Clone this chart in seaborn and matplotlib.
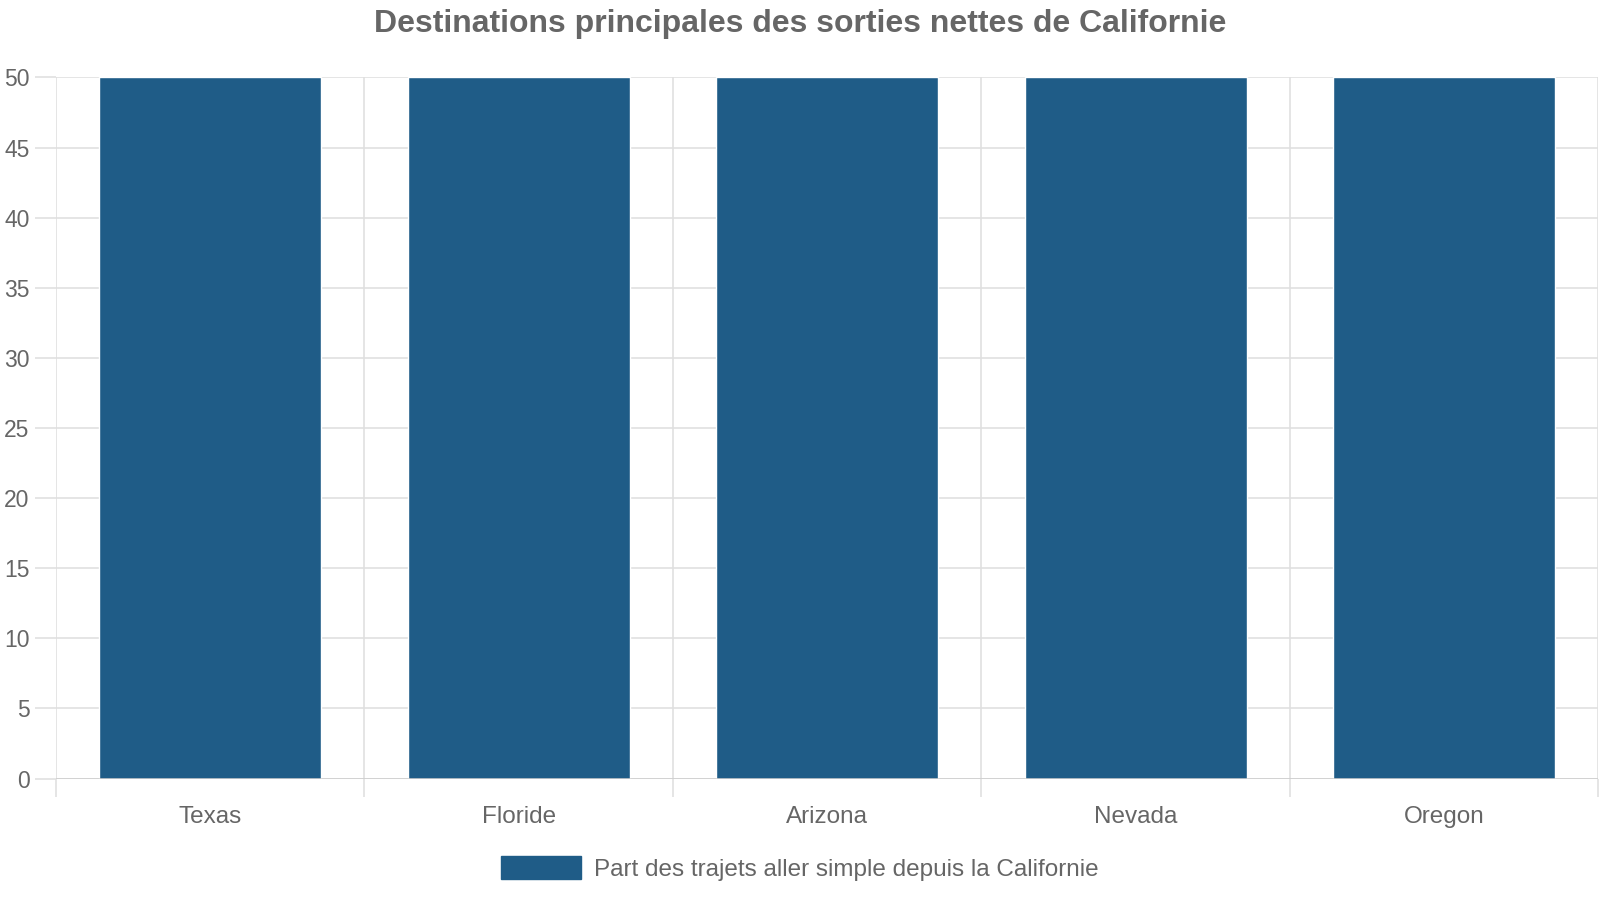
import matplotlib
matplotlib.use("Agg")
import matplotlib.pyplot as plt
import seaborn as sns
import pandas as pd
from matplotlib.patches import Patch

categories = ["Texas", "Floride", "Arizona", "Nevada", "Oregon"]
values = [50, 50, 50, 50, 50]
series_name = "Part des trajets aller simple depuis la Californie"
title = "Destinations principales des sorties nettes de Californie"
yticks = [0, 5, 10, 15, 20, 25, 30, 35, 40, 45, 50]

sns.set_theme(style="white")
plt.rcParams["font.family"] = ["Liberation Sans", "DejaVu Sans"]

TEXT = "#666666"
GRID = "#e0e0e0"
BAR = "#1f5c87"

df = pd.DataFrame({"cat": categories, "val": values})

fig = plt.figure(figsize=(16, 9), dpi=100)
ax = fig.add_axes([0.035, 0.135, 0.964, 0.779])

sns.barplot(data=df, x="cat", y="val", color=BAR, width=0.72, saturation=1,
            ax=ax, zorder=3)

ax.set_ylim(0, 50)
ax.set_xlim(-0.5, len(categories) - 0.5)
ax.set_yticks(yticks)
ax.set_yticklabels([str(t) for t in yticks])
ax.set_xlabel("")
ax.set_ylabel("")

# grid
for t in yticks:
    ax.axhline(t, color=GRID, lw=1.2, zorder=1)
for i in range(len(categories) + 1):
    ax.axvline(i - 0.5, color=GRID, lw=1.2, zorder=1)
ax.axhline(0, color="#cccccc", lw=1.8, zorder=4)

for s in ax.spines.values():
    s.set_visible(False)

ax.tick_params(axis="y", length=15, width=1.2, color=GRID, labelsize=16.5,
               labelcolor=TEXT, pad=4, left=True)
ax.set_xticks(range(len(categories)))
ax.set_xticklabels(categories)
ax.tick_params(axis="x", length=0, labelsize=17.5, labelcolor=TEXT, pad=20)
ax.set_xticks([i - 0.5 for i in range(len(categories) + 1)], minor=True)
ax.tick_params(axis="x", which="minor", length=13, width=1.2, color=GRID,
               bottom=True)

fig.suptitle(title, fontsize=23, fontweight="bold", color=TEXT, x=0.5, y=0.99,
             va="top")

handles = [Patch(facecolor=BAR, edgecolor=BAR, label=series_name)]
fig.legend(handles=handles, loc="center", bbox_to_anchor=(0.5, 0.035),
           frameon=False, fontsize=17.5, labelcolor=TEXT, handlelength=3.3,
           handleheight=1.1, handletextpad=0.55)

fig.savefig("out.png", dpi=100)
